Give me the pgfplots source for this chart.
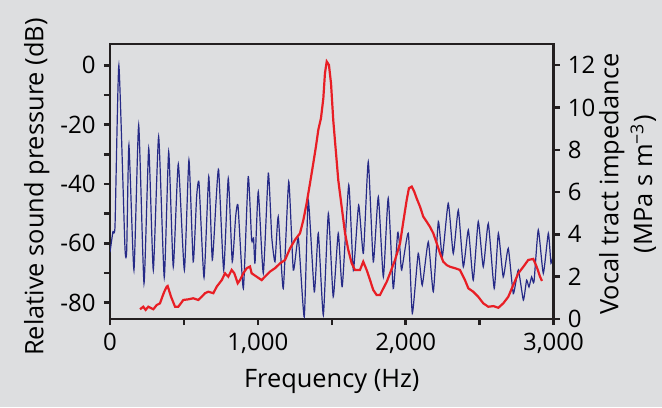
\documentclass[border=0pt]{standalone}
\usepackage{fontspec}
\setmainfont{Open Sans}
\usepackage{pgfplots}
\pgfplotsset{compat=1.18}
\definecolor{bg}{RGB}{221,222,224}
\definecolor{axcol}{RGB}{35,31,32}
\definecolor{spec}{RGB}{38,42,135}
\definecolor{imp}{RGB}{232,30,37}
\begin{document}
\fontsize{12}{14}\selectfont
\begin{tikzpicture}
\fill[bg] (0,0) rectangle (331pt,203.5pt);
\begin{axis}[
  at={(55pt,44pt)}, anchor=south west,
  scale only axis, width=221.75pt, height=137.5pt,
  xmin=0, xmax=3000, ymin=-85.5, ymax=7.2,
  xtick pos=left, ytick pos=left,
  tick align=outside,
  major tick length=3pt, minor tick length=3pt,
  every tick/.style={line width=1.2pt, color=axcol},
  axis line style={line width=1.3pt, color=axcol},
  xtick={0,1000,2000,3000}, xticklabels={0,{1,000},{2,000},{3,000}},
  minor xtick={500,1500,2500},
  ytick={-80,-60,-40,-20,0}, yticklabels={-80,-60,-40,-20,0},
  minor ytick={-70,-50,-30,-10},
  xlabel={Frequency (Hz)},
  ylabel={Relative sound pressure (dB)},
  label style={font=\fontsize{12.7}{15}\selectfont},
  xlabel style={at={(axis description cs:0.5,-0.229)}, anchor=center},
  ylabel style={at={(axis description cs:-0.165,0.48)}, anchor=center, rotate=0},
]
\addplot[spec, line width=0.6pt, smooth, tension=0.3] coordinates {
(0,-63) (20,-56) (34,-54) (60,0) (101,-61.2) (113,-62.3) (128,-26.8) (162,-69) (194,-20.1) (230,-73.5) (262,-28) (293,-69) (329,-24) (367,-71.5) (397,-29.1) (428,-67.9) (462,-33.3) (503,-69) (534,-31.9) (563,-66.2) (586,-44.3) (602,-39.6) (636,-71.5) (668,-37.5) (692,-65.6) (717,-46) (735,-35.3) (769,-69) (800,-38.1) (827,-66.2) (850,-51) (866,-47.4) (902,-75.2) (935,-37.5) (958,-58.9) (971,-58.2) (981,-66.6) (1003,-42.6) (1037,-70.1) (1071,-36.4) (1094,-57.8) (1116,-66.2) (1138,-51) (1172,-75.2) (1209,-39.2) (1240,-69) (1274,-58.3) (1314,-84.8) (1341,-45.4) (1382,-76.3) (1409,-56.6) (1443,-84.2) (1477,-49.9) (1510,-78) (1544,-56.6) (1571,-74.6) (1615,-40.3) (1646,-69) (1682,-47.1) (1714,-63.4) (1747,-32.5) (1781,-66.2) (1815,-44.3) (1849,-71.3) (1882,-44.8) (1916,-75.2) (1946,-56.4) (1962,-62.3) (1973,-69) (2018,-56.6) (2045,-83.6) (2085,-63.4) (2112,-74.1) (2153,-59.5) (2187,-76.3) (2221,-52.7) (2248,-64.5) (2288,-46.5) (2322,-63.4) (2356,-48.8) (2390,-67.9) (2424,-55.5) (2457,-72.4) (2491,-52.7) (2525,-67.9) (2559,-53.3) (2599,-75.2) (2627,-56.6) (2660,-71.3) (2694,-61.7) (2728,-76.9) (2762,-69) (2796,-79.1) (2818,-72.4) (2834,-74.7) (2852,-71.3) (2868,-73) (2897,-55.5) (2931,-70.1) (2965,-56.6) (2983,-66.7) (3000,-63.3)
};
\end{axis}
\begin{axis}[
  at={(55pt,44pt)}, anchor=south west,
  scale only axis, width=221.75pt, height=137.5pt,
  xmin=0, xmax=3000, ymin=0, ymax=13,
  axis x line=none, axis y line*=right,
  tick align=outside,
  major tick length=3pt,
  every tick/.style={line width=1.2pt, color=axcol},
  axis line style={line width=1.3pt, color=axcol},
  ytick={0,2,4,6,8,10,12},
  ylabel={\shortstack{Vocal tract impedance\\(MPa s m\textsuperscript{−3})}},
  label style={font=\fontsize{12.7}{15}\selectfont},
  ylabel style={at={(axis description cs:1.167,0.49)}, anchor=center, rotate=0, align=center},
  /pgf/number format/assume math mode=true,
]
\addplot[imp, line width=1.1pt] coordinates {
(203,0.46) (225,0.58) (241,0.43) (259,0.58) (293,0.46) (316,0.66) (338,0.74) (354,1.05) (367,1.29) (384,1.53) (390,1.56) (413,1.05) (440,0.58) (462,0.58) (496,0.90) (530,0.93) (563,0.98) (597,0.90) (620,1.05) (643,1.22) (665,1.29) (699,1.22) (722,1.53) (756,1.84) (778,2.16) (800,2.00) (823,2.32) (841,2.16) (864,1.69) (879,1.84) (902,2.16) (925,2.40) (947,2.48) (958,2.16) (992,2.00) (1026,1.84) (1048,2.00) (1082,2.24) (1116,2.40) (1150,2.63) (1184,2.79) (1218,3.34) (1251,3.74) (1285,4.05) (1308,4.68) (1330,5.47) (1353,6.42) (1375,7.36) (1393,8.15) (1409,8.94) (1427,9.49) (1443,10.43) (1454,11.62) (1466,12.17) (1481,12.01) (1495,11.14) (1510,9.41) (1527,7.99) (1544,6.57) (1567,5.31) (1590,4.05) (1612,3.26) (1635,2.63) (1657,2.32) (1691,2.32) (1713,2.71) (1736,2.32) (1759,1.84) (1781,1.37) (1804,1.13) (1826,1.13) (1849,1.45) (1872,1.76) (1894,2.16) (1928,2.79) (1962,3.58) (1984,4.60) (2007,5.63) (2022,6.18) (2041,6.26) (2058,6.02) (2074,5.71) (2097,5.31) (2119,4.84) (2142,4.60) (2164,4.36) (2187,4.05) (2210,3.58) (2232,3.11) (2254,2.71) (2277,2.55) (2300,2.47) (2334,2.40) (2367,2.32) (2401,1.84) (2424,1.45) (2457,1.29) (2491,1.05) (2525,0.74) (2559,0.58) (2593,0.61) (2627,0.53) (2660,0.74) (2694,1.05) (2728,1.61) (2762,2.16) (2796,2.47) (2829,2.79) (2863,2.84) (2886,2.47) (2909,2.00) (2922,1.80)
};
\end{axis}
\pgfresetboundingbox
\path (0,0) rectangle (331pt,203.5pt);
\end{tikzpicture}
\end{document}
